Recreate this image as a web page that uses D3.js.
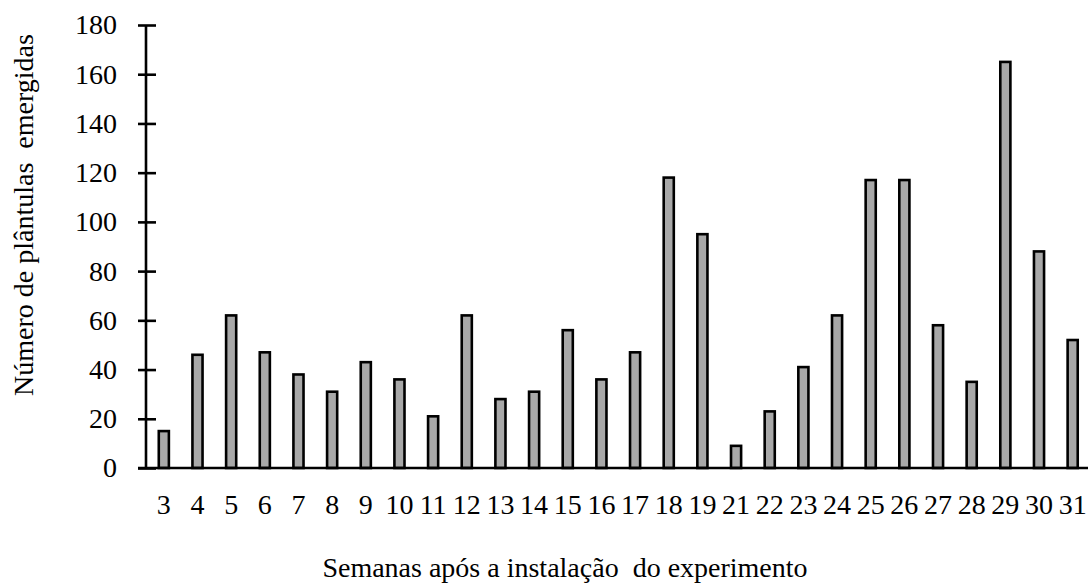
<!DOCTYPE html>
<html>
<head>
<meta charset="utf-8">
<script src="https://cdn.jsdelivr.net/npm/d3@7"></script>
<style>
  html, body { margin: 0; padding: 0; background: #fff; }
  svg { display: block; }
</style>
</head>
<body>
<svg id="chart" width="1088" height="586"></svg>
<script>
const weeks = ["3","4","5","6","7","8","9","10","11","12","13","14","15","16","17","18","19","21","22","23","24","25","26","27","28","29","30","31"];
const seedlings = [15,46,62,47,38,31,43,36,21,62,28,31,56,36,47,118,95,9,23,41,62,117,117,58,35,165,88,52];
const yTicks = [0,20,40,60,80,100,120,140,160,180];
const xTitle = "Semanas após a instalação  do experimento";
const yTitle = "Número de plântulas  emergidas";

const svg = d3.select("#chart");
const axisX = 146, plotTop = 25, plotBase = 468;
const fontSize = 28;
const serif = "'Liberation Serif', 'Times New Roman', serif";

const x = d3.scaleBand().domain(weeks).range([147, 1089.5]).paddingInner(0.70).paddingOuter(0.35);
const y = d3.scaleLinear().domain([0, 180]).range([plotBase, plotTop]);

// bars
svg.append("g").selectAll("rect").data(weeks).join("rect")
  .attr("x", (d) => x(d))
  .attr("y", (d, i) => y(seedlings[i]))
  .attr("width", x.bandwidth())
  .attr("height", (d, i) => y(0) - y(seedlings[i]))
  .attr("fill", "#a8a8a8")
  .attr("stroke", "#000")
  .attr("stroke-width", 2.6);

// y axis
const yAxis = svg.append("g").attr("transform", `translate(${axisX},0)`)
  .call(d3.axisLeft(y).tickValues(yTicks).tickSize(0).tickPadding(29));
yAxis.attr("font-family", serif).attr("font-size", fontSize);
yAxis.select(".domain").remove();
yAxis.append("line").attr("x1", 0).attr("x2", 0).attr("y1", plotTop).attr("y2", plotBase)
  .attr("stroke", "#000").attr("stroke-width", 2.6);
yAxis.selectAll(".tick").append("line")
  .attr("x1", -8).attr("x2", 10).attr("stroke", "#000").attr("stroke-width", 2.6);
yAxis.selectAll(".tick text").attr("font-family", serif).attr("font-size", fontSize).attr("fill", "#000");

// x axis
const xAxis = svg.append("g").attr("transform", `translate(0,${plotBase})`)
  .call(d3.axisBottom(x).tickSize(0).tickPadding(26));
xAxis.attr("font-family", serif).attr("font-size", fontSize);
xAxis.select(".domain").remove();
xAxis.append("line").attr("x1", 138).attr("x2", 1088).attr("y1", 0).attr("y2", 0)
  .attr("stroke", "#000").attr("stroke-width", 2.6);
xAxis.selectAll(".tick text").attr("font-family", serif).attr("font-size", fontSize).attr("fill", "#000");

// titles
svg.append("text")
  .attr("x", 565).attr("y", 577)
  .attr("text-anchor", "middle")
  .attr("font-family", serif).attr("font-size", fontSize)
  .style("white-space", "pre")
  .text(xTitle);

svg.append("text")
  .attr("transform", "translate(33,215) rotate(-90)")
  .attr("text-anchor", "middle")
  .attr("font-family", serif).attr("font-size", fontSize)
  .style("white-space", "pre")
  .text(yTitle);
</script>
</body>
</html>
